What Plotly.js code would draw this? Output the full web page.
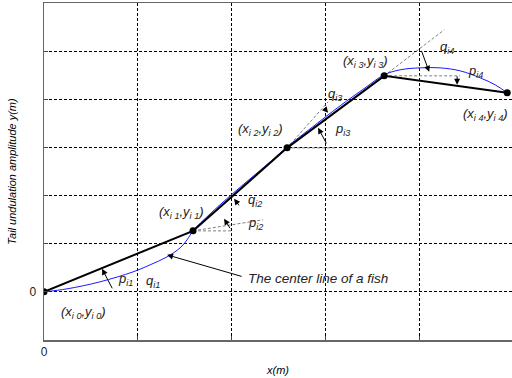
<!DOCTYPE html>
<html>
<head>
<meta charset="utf-8">
<script src="https://cdn.plot.ly/plotly-3.0.1.min.js"></script>
<style>html,body{margin:0;padding:0;background:#fff}</style>
</head>
<body>
<div id="chart" style="width:512px;height:378px"></div>
<script>
// Joint points of the fish-body polyline
var jointX = [0, 1.589, 2.592, 3.627, 4.939];
var jointY = [0, 1.267, 2.991, 4.487, 4.134];

// Fish center line (blue curve)
var curveX = [0, 0.245, 0.597, 0.949, 1.131, 1.312, 1.451, 1.525, 1.589, 1.771, 1.984, 2.197, 2.411, 2.592, 2.837, 3.157, 3.424, 3.627, 3.797, 4.011, 4.224, 4.437, 4.651, 4.811, 4.939];
var curveY = [0, 0.062, 0.208, 0.415, 0.561, 0.727, 0.914, 1.080, 1.267, 1.620, 1.994, 2.347, 2.700, 3.012, 3.386, 3.864, 4.238, 4.508, 4.612, 4.653, 4.653, 4.591, 4.445, 4.300, 4.134];

// Dashed reference lines: start and end points
var refX0 = [1.589, 1.589, 2.592, 2.592, 3.627, 3.627];
var refY0 = [1.267, 1.267, 2.991, 2.991, 4.487, 4.487];
var refX1 = [2.005, 2.336, 3.029, 3.10, 4.267, 4.437];
var refY1 = [1.267, 1.496, 3.947, 2.991, 5.442, 4.487];

// Angle arrows: head and tail
var arrowX = [0.619, 1.920, 2.027, 2.923, 3.029, 4.107, 4.405, 1.312];
var arrowY = [0.478, 1.516, 1.932, 3.407, 3.718, 4.570, 4.300, 0.769];
var arrowAX = [0.736, 1.995, 2.091, 3.019, 2.976, 4.021, 4.405, 2.123];
var arrowAY = [0.042, 1.288, 1.766, 3.054, 3.843, 5.027, 4.508, 0.312];

// Labels
var labelText = ['(x<sub>i 0</sub>,y<sub>i 0</sub>)', 'p<sub>i1</sub>', 'q<sub>i1</sub>', '(x<sub>i 1</sub>,y<sub>i 1</sub>)',
  'q<sub>i2</sub>', 'p<sub>i2</sub>', '(x<sub>i 2</sub>,y<sub>i 2</sub>)', 'q<sub>i3</sub>', 'p<sub>i3</sub>',
  '(x<sub>i 3</sub>,y<sub>i 3</sub>)', 'q<sub>i4</sub>', 'p<sub>i4</sub>', '(x<sub>i 4</sub>,y<sub>i 4</sub>)'];
var labelX = [0.416, 0.864, 1.163, 1.461, 2.251, 2.251, 2.304, 3.104, 3.179, 3.424, 4.30, 4.597, 4.704];
var labelY = [-0.436, 0.249, 0.208, 1.641, 1.890, 1.412, 3.365, 4.092, 3.365, 4.778, 5.069, 4.570, 3.677];
var noteText = 'The center line of a fish';
var noteX = 2.155, noteY = 0.27;

var xTicks = [0, 1, 2, 3, 4, 5];
var xTickText = ['0', '', '', '', '', ''];
var yTicks = [-1, 0, 1, 2, 3, 4, 5, 6];
var yTickText = ['', '0', '', '', '', '', '', ''];

var traces = [];
for (var i = 0; i < refX0.length; i++) {
  traces.push({x: [refX0[i], refX1[i]], y: [refY0[i], refY1[i]], mode: 'lines',
    line: {color: '#808080', width: 1, dash: '3px,2px'}, hoverinfo: 'skip', showlegend: false});
}
traces.push({x: curveX, y: curveY, mode: 'lines', line: {color: '#1a1aff', width: 1, shape: 'spline'}, showlegend: false});
traces.push({x: jointX, y: jointY, mode: 'lines+markers', line: {color: '#000', width: 2},
  marker: {color: '#000', size: 7}, showlegend: false});

var ann = [];
var fnt = {family: 'Liberation Sans, Arial, sans-serif', size: 13, color: '#222', style: 'italic'};
for (var j = 0; j < arrowX.length; j++) {
  ann.push({x: arrowX[j], y: arrowY[j], ax: arrowAX[j], ay: arrowAY[j], axref: 'x', ayref: 'y', xref: 'x', yref: 'y',
    showarrow: true, arrowhead: 2, arrowsize: 1.2, arrowwidth: 1, arrowcolor: '#000', text: ''});
}
for (var k = 0; k < labelText.length; k++) {
  ann.push({x: labelX[k], y: labelY[k], xref: 'x', yref: 'y', text: labelText[k], showarrow: false, font: fnt});
}
ann.push({x: noteX, y: noteY, xref: 'x', yref: 'y', text: noteText, showarrow: false, xanchor: 'left',
  font: {family: 'Liberation Sans, Arial, sans-serif', size: 13.5, color: '#222', style: 'italic'}});

var layout = {
  width: 512, height: 378,
  margin: {l: 44, r: 0, t: 3, b: 38},
  paper_bgcolor: '#fff', plot_bgcolor: '#fff',
  font: {family: 'Liberation Sans, Arial, sans-serif', size: 11, color: '#000'},
  xaxis: {range: [0, 4.99], tickvals: xTicks, ticktext: xTickText, showgrid: true, gridcolor: '#000', griddash: '3px,2px', gridwidth: 1,
    zeroline: false, showline: true, mirror: true, linecolor: '#666', linewidth: 1.5, ticks: 'inside', ticklen: 4, tickcolor: '#444',
    tickfont: {size: 12, color: '#222'},
    title: {text: 'x(m)', font: {size: 11, style: 'italic'}, standoff: 8}},
  yaxis: {range: [-1, 6], tickvals: yTicks, ticktext: yTickText, showgrid: true, gridcolor: '#000', griddash: '3px,2px', gridwidth: 1,
    zeroline: false, showline: true, mirror: true, linecolor: '#666', linewidth: 1.5, ticks: 'inside', ticklen: 4, tickcolor: '#444',
    tickfont: {size: 12, color: '#222'}, ticklabelstandoff: 4,
    title: {text: 'Tail undulation amplitude y(m)', font: {size: 11, style: 'italic'}, standoff: 10}},
  annotations: ann
};
Plotly.newPlot('chart', traces, layout, {displayModeBar: false, staticPlot: true});
</script>
</body>
</html>
